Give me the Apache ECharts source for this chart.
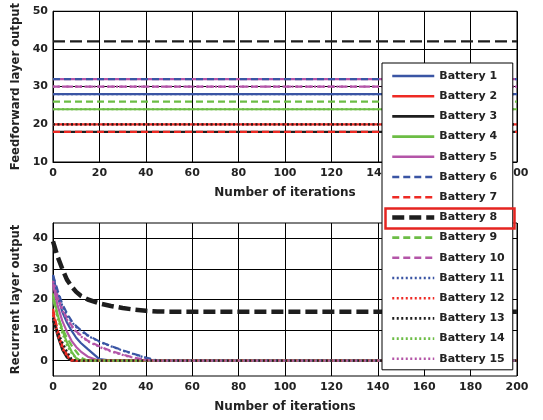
<!DOCTYPE html>
<html>
<head>
<meta charset="utf-8">
<script src="https://cdn.jsdelivr.net/npm/echarts@6/dist/echarts.min.js"></script>
<style>
  html, body { margin: 0; padding: 0; background: #fff; }
  #chart { width: 543px; height: 420px; }
</style>
</head>
<body>
<div id="chart"></div>
<script>
// battery names and styles
const names = [];
for (let i = 1; i <= 15; i++) names.push("Battery " + i);
const colors = ["#3a55a4", "#ee2a24", "#1e1e1e", "#6cbd45", "#b455a8"];

// feedforward layer output (constant over iterations)
const ffX = [0, 200];
const ffValues = [28, 20, 18, 24, 32, 32, 18, 42, 26, 30, 28, 20, 20, 24, 30];

// recurrent layer output, sampled at these iterations
const iters = [0, 2, 4, 6, 8, 10, 12, 15, 20, 25, 30, 35, 40, 45, 50, 200];
const rec = [
  [28, 21, 16, 12.5, 9.8, 7.5, 5.8, 3.8, 0.5, 0, 0, 0, 0, 0, 0, 0],          // 1
  [16, 9, 4.5, 1.5, 0, 0, 0, 0, 0, 0, 0, 0, 0, 0, 0, 0],                      // 2
  [14, 8, 3.5, 1, 0, 0, 0, 0, 0, 0, 0, 0, 0, 0, 0, 0],                        // 3
  [22, 15, 10, 6, 3, 0.8, 0, 0, 0, 0, 0, 0, 0, 0, 0, 0],                      // 4
  [25, 18, 13, 9.5, 6.5, 4.5, 3, 1.3, 0, 0, 0, 0, 0, 0, 0, 0],                // 5
  [28, 23, 18.5, 15.5, 13, 11.3, 10, 8.3, 6.3, 4.8, 3.4, 2.2, 1, 0.1, 0, 0],  // 6
  [17, 10, 5, 2, 0.3, 0, 0, 0, 0, 0, 0, 0, 0, 0, 0, 0],                       // 7
  [39, 34, 30, 26.5, 24.3, 22.5, 21.2, 20, 18.7, 17.9, 17.2, 16.7, 16.3, 16.1, 16, 16], // 8
  [20, 14.5, 10.5, 7.5, 5, 3, 1, 0, 0, 0, 0, 0, 0, 0, 0, 0],                  // 9
  [26, 21, 17, 14, 11.5, 9.6, 8.3, 6.5, 4.7, 3.2, 2, 1, 0.3, 0, 0, 0],        // 10
  [27, 22.5, 18, 15, 12.7, 11, 9.8, 8.1, 6.2, 4.7, 3.3, 2.1, 0.9, 0, 0, 0],   // 11
  [15, 8.5, 4, 1.5, 0, 0, 0, 0, 0, 0, 0, 0, 0, 0, 0, 0],                      // 12
  [13, 9.5, 6, 3, 0.5, 0, 0, 0, 0, 0, 0, 0, 0, 0, 0, 0],                      // 13
  [21, 14, 9, 5, 2.5, 0.8, 0, 0, 0, 0, 0, 0, 0, 0, 0, 0],                     // 14
  [26, 20.5, 16.5, 13.5, 11.2, 9.4, 8, 6.3, 4.5, 3, 1.9, 0.9, 0.2, 0, 0, 0]   // 15
];

const recYTicks = [0, 10, 20, 30, 40];

const font = { fontFamily: "DejaVu Sans", fontWeight: "bold", color: "#222" };

function lineType(i) {
  if (i === 7) return [12, 5];
  if (i < 5) return "solid";
  if (i < 10) return [7, 4];
  return [2, 2.5];
}

function makeSeries(i, grid) {
  const bottom = grid === 1;
  const data = bottom
    ? iters.map((x, k) => [x, rec[i][k]])
    : ffX.map((x) => [x, ffValues[i]]);
  return {
    name: names[i],
    type: "line",
    xAxisIndex: grid,
    yAxisIndex: grid,
    data: data,
    symbol: "none",
    silent: true,
    animation: false,
    lineStyle: {
      color: colors[i % 5],
      width: i === 7 && bottom ? 4.5 : 2.2,
      type: lineType(i),
    },
    itemStyle: { color: colors[i % 5] },
  };
}

const series = [];
for (let i = 0; i < 15; i++) series.push(makeSeries(i, 1));
for (let i = 0; i < 15; i++) series.push(makeSeries(i, 0));

function xAxis(grid) {
  return {
    type: "value",
    gridIndex: grid,
    min: 0,
    max: 200,
    interval: 20,
    name: "Number of iterations",
    nameLocation: "middle",
    nameGap: 25,
    nameTextStyle: Object.assign({ fontSize: 12 }, font),
    axisLine: { lineStyle: { color: "#000", width: 1 } },
    axisTick: { inside: true, length: 4, lineStyle: { color: "#000" } },
    axisLabel: Object.assign({ fontSize: 11, margin: 6 }, font),
    splitLine: { show: true, lineStyle: { color: "#000", width: 1 } },
  };
}

const chart = echarts.init(document.getElementById("chart"));
chart.setOption({
  animation: false,
  backgroundColor: "#fff",
  grid: [
    { left: 53, top: 11, width: 464, height: 151, show: true, borderColor: "#000", borderWidth: 1 },
    { left: 53, top: 223, width: 464, height: 153, show: true, borderColor: "#000", borderWidth: 1 },
  ],
  xAxis: [xAxis(0), xAxis(1)],
  yAxis: [
    {
      type: "value",
      gridIndex: 0,
      min: 10,
      max: 50,
      interval: 10,
      name: "Feedforward layer output",
      nameLocation: "middle",
      nameGap: 27,
      nameTextStyle: Object.assign({ fontSize: 11.6 }, font),
      axisLine: { lineStyle: { color: "#000" } },
      axisTick: { inside: true, length: 4, lineStyle: { color: "#000" } },
      axisLabel: Object.assign({ fontSize: 11, margin: 5 }, font),
      splitLine: { show: true, lineStyle: { color: "#000", width: 1 } },
    },
    {
      type: "value",
      gridIndex: 1,
      min: -5,
      max: 45,
      name: "Recurrent layer output",
      nameLocation: "middle",
      nameGap: 27,
      nameTextStyle: Object.assign({ fontSize: 11.6 }, font),
      axisLine: { show: true, onZero: false, lineStyle: { color: "#000" } },
      axisTick: { inside: true, length: 4, customValues: recYTicks, lineStyle: { color: "#000" } },
      axisLabel: Object.assign({ fontSize: 11, margin: 5, customValues: recYTicks }, font),
      splitLine: { show: true, lineStyle: { color: "#000", width: 1 } },
    },
  ],
  legend: {
    orient: "vertical",
    left: 382,
    top: 63,
    padding: [6, 8, 4, 8],
    itemWidth: 42,
    itemHeight: 14,
    itemGap: 6.2,
    backgroundColor: "#fff",
    borderColor: "#000",
    borderWidth: 1,
    borderRadius: 0,
    selectedMode: false,
    itemStyle: { opacity: 0 },
    textStyle: Object.assign({ fontSize: 11, lineHeight: 14 }, font),
    data: names.map((n, i) => ({
      name: n,
      lineStyle: { width: i === 7 ? 4.5 : 2.6, opacity: 1 },
    })),
    z: 10,
  },
  graphic: [
    {
      type: "rect",
      left: 383,
      top: 206,
      z: 100,
      shape: { width: 129, height: 20 },
      style: { fill: "none", stroke: "#e52521", lineWidth: 2.5 },
    },
  ],
  series: series,
});
</script>
</body>
</html>
